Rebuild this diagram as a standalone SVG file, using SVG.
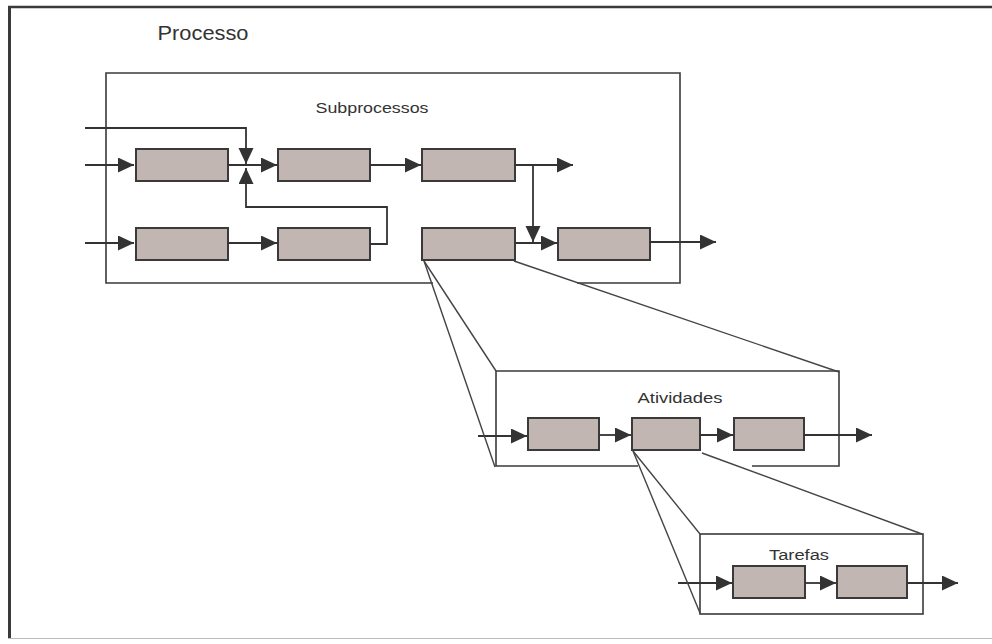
<svg xmlns="http://www.w3.org/2000/svg" width="992" height="644" viewBox="0 0 992 644">
  <defs>
    <marker id="arr" markerUnits="userSpaceOnUse" markerWidth="17" markerHeight="16" refX="16" refY="7.5" orient="auto">
      <path d="M0,0 L16,7.5 L0,15 z" fill="#333"/>
    </marker>
    <style>
      .box { fill: #c1b6b1; stroke: #3a3a3a; stroke-width: 2; }
      .frame { fill: none; stroke: #3a3a3a; stroke-width: 1.6; }
      .conn { fill: none; stroke: #333; stroke-width: 1.8; }
      .exp { fill: none; stroke: #444; stroke-width: 1.4; }
      .lbl { font-family: "Liberation Sans", Arial, sans-serif; fill: #333; text-anchor: middle; }
    </style>
  </defs>
  <rect x="0" y="0" width="992" height="644" fill="#ffffff"/>

  <!-- Outer frame -->
  <g id="processo">
    <line x1="8" y1="7" x2="992" y2="7" stroke="#3a3a3a" stroke-width="2.6"/>
    <line x1="9.5" y1="6" x2="9.5" y2="639" stroke="#3a3a3a" stroke-width="3"/>
    <line x1="8" y1="638.5" x2="992" y2="638.5" stroke="#bbbbbb" stroke-width="1"/>
    <text class="lbl" x="203" y="40" font-size="20" textLength="91" lengthAdjust="spacingAndGlyphs">Processo</text>
  </g>

  <!-- Subprocess container -->
  <g id="subprocessos">
    <path class="frame" d="M433,283 L106,283 L106,73 L680,73 L680,283 L577,283"/>
    <text class="lbl" x="372" y="113" font-size="15" textLength="113" lengthAdjust="spacingAndGlyphs">Subprocessos</text>
  </g>
  <g id="sp-a"><rect class="box" x="136" y="149" width="92" height="32"/></g>
  <g id="sp-b"><rect class="box" x="278" y="149" width="92" height="32"/></g>
  <g id="sp-c"><rect class="box" x="422" y="149" width="93" height="32"/></g>
  <g id="sp-d"><rect class="box" x="136" y="228" width="92" height="32"/></g>
  <g id="sp-e"><rect class="box" x="278" y="228" width="92" height="32"/></g>
  <g id="sp-f"><rect class="box" x="422" y="228" width="93" height="32"/></g>
  <g id="sp-g"><rect class="box" x="558" y="228" width="92" height="32"/></g>

  <!-- Atividades container -->
  <g id="atividades">
    <path class="frame" d="M638,466 L496,466 L496,371 L839,371 L839,466 L752,466"/>
    <text class="lbl" x="680" y="403" font-size="15.5" textLength="85" lengthAdjust="spacingAndGlyphs">Atividades</text>
  </g>
  <g id="at-h"><rect class="box" x="528" y="418" width="71" height="32"/></g>
  <g id="at-i"><rect class="box" x="632" y="418" width="68" height="32"/></g>
  <g id="at-j"><rect class="box" x="734" y="418" width="70" height="32"/></g>

  <!-- Tarefas container -->
  <g id="tarefas">
    <rect class="frame" x="700" y="534" width="223" height="80"/>
    <text class="lbl" x="799" y="560" font-size="15.5" textLength="60" lengthAdjust="spacingAndGlyphs">Tarefas</text>
  </g>
  <g id="ta-k"><rect class="box" x="733" y="566" width="72" height="32"/></g>
  <g id="ta-l"><rect class="box" x="837" y="566" width="70" height="32"/></g>

  <!-- Connectors -->
  <g id="connectors">
    <!-- subprocess row 1 -->
    <line class="conn" x1="85" y1="165" x2="134" y2="165" marker-end="url(#arr)"/>
    <polyline class="conn" points="85,128 246,128 246,164" marker-end="url(#arr)"/>
    <line class="conn" x1="228" y1="165" x2="277" y2="165" marker-end="url(#arr)"/>
    <polyline class="conn" points="370,244 387,244 387,207 246,207 246,168" marker-end="url(#arr)"/>
    <line class="conn" x1="370" y1="165" x2="421" y2="165" marker-end="url(#arr)"/>
    <line class="conn" x1="515" y1="165" x2="573" y2="165" marker-end="url(#arr)"/>
    <line class="conn" x1="533" y1="165" x2="533" y2="242" marker-end="url(#arr)"/>
    <!-- subprocess row 2 -->
    <line class="conn" x1="85" y1="243" x2="134" y2="243" marker-end="url(#arr)"/>
    <line class="conn" x1="228" y1="243" x2="277" y2="243" marker-end="url(#arr)"/>
    <line class="conn" x1="515" y1="243" x2="557" y2="243" marker-end="url(#arr)"/>
    <line class="conn" x1="650" y1="242" x2="716" y2="242" marker-end="url(#arr)"/>
    <!-- atividades row -->
    <line class="conn" x1="478" y1="436" x2="527" y2="436" marker-end="url(#arr)"/>
    <line class="conn" x1="599" y1="435" x2="631" y2="435" marker-end="url(#arr)"/>
    <line class="conn" x1="700" y1="435" x2="733" y2="435" marker-end="url(#arr)"/>
    <line class="conn" x1="804" y1="435" x2="872" y2="435" marker-end="url(#arr)"/>
    <!-- tarefas row -->
    <line class="conn" x1="678" y1="583" x2="732" y2="583" marker-end="url(#arr)"/>
    <line class="conn" x1="805" y1="583" x2="836" y2="583" marker-end="url(#arr)"/>
    <line class="conn" x1="907" y1="583" x2="958" y2="583" marker-end="url(#arr)"/>
    <!-- expansion lines -->
    <line class="exp" x1="424" y1="261" x2="496" y2="371"/>
    <line class="exp" x1="424" y1="261" x2="495" y2="467"/>
    <line class="exp" x1="514" y1="261" x2="839" y2="372"/>
    <line class="exp" x1="633" y1="451" x2="700" y2="534"/>
    <line class="exp" x1="633" y1="451" x2="700" y2="613"/>
    <line class="exp" x1="702" y1="453" x2="922" y2="534"/>
  </g>
</svg>
